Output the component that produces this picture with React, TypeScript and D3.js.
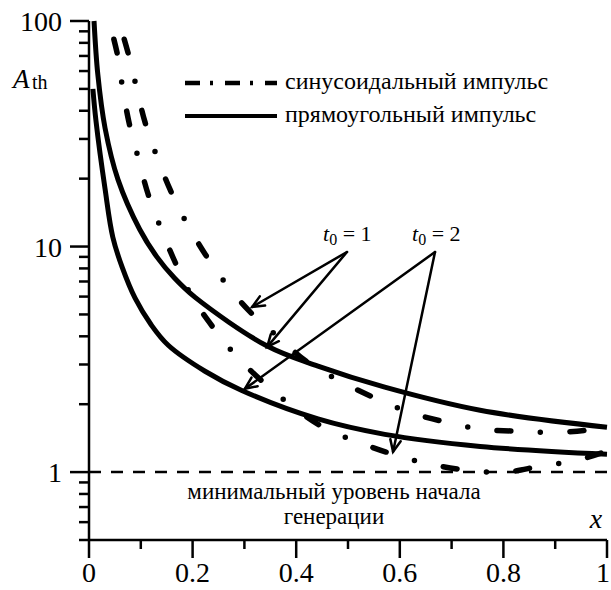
import React from 'react'
import * as d3 from 'd3'

const W = 611
const H = 590

// прямоугольный импульс, t0 = 1
const rect1X = [0.0097, 0.017, 0.031, 0.056, 0.098, 0.131, 0.165, 0.205, 0.344, 0.442, 0.571, 0.755, 1.0]
const rect1Y = [100, 58, 33.5, 19.8, 11.9, 9.0, 7.25, 5.95, 3.62, 2.95, 2.38, 1.88, 1.58]
// прямоугольный импульс, t0 = 2
const rect2X = [0.0075, 0.0135, 0.031, 0.046, 0.064, 0.089, 0.12, 0.153, 0.224, 0.295, 0.442, 0.571, 0.755, 1.0]
const rect2Y = [50, 36, 18, 11, 8.1, 5.9, 4.5, 3.65, 2.8, 2.3, 1.72, 1.47, 1.3, 1.2]
// синусоидальный импульс, t0 = 1
const sin1X = [0.068, 0.077, 0.089, 0.108, 0.129, 0.156, 0.187, 0.224, 0.266, 0.311, 0.365, 0.421, 0.485, 0.548, 0.616, 0.687, 0.757, 0.82, 0.9, 1.0]
const sin1Y = [83, 70, 53.7, 35.7, 25.8, 18, 12.9, 9.27, 6.76, 5.13, 3.97, 3.08, 2.53, 2.15, 1.85, 1.67, 1.55, 1.52, 1.5, 1.56]
// синусоидальный импульс, t0 = 2
const sin2X = [0.048, 0.056, 0.064, 0.077, 0.095, 0.114, 0.139, 0.166, 0.199, 0.239, 0.286, 0.34, 0.392, 0.452, 0.519, 0.587, 0.658, 0.73, 0.803, 0.87, 0.944, 1.0]
const sin2Y = [83, 69, 52, 35.7, 24.7, 17.1, 12, 8.55, 5.98, 4.4, 3.24, 2.46, 1.96, 1.58, 1.36, 1.2, 1.085, 1.02, 1.0, 1.06, 1.13, 1.24]

const xMajor = [0, 0.2, 0.4, 0.6, 0.8, 1]
const xLabels = ['0', '0.2', '0.4', '0.6', '0.8', '1']
const xMinor = [0.1, 0.3, 0.5, 0.7, 0.9]
const yMajor = [1, 10, 100]
const yLabels = ['1', '10', '100']
const yMinor = [0.5, 0.6, 0.7, 0.8, 0.9, 2, 3, 4, 5, 6, 7, 8, 9, 20, 30, 40, 50, 60, 70, 80, 90]

const legendLabels = ['синусоидальный импульс', 'прямоугольный импульс']

// стрелки: [x0, y0, x1, y1] в координатах данных
const arrowsT1 = [[0.498, 9.46, 0.315, 5.4], [0.498, 9.46, 0.344, 3.59]]
const arrowsT2 = [[0.668, 9.46, 0.301, 2.34], [0.668, 9.46, 0.587, 1.23]]

const font = "'Liberation Serif', 'Times New Roman', serif"

function zip(xs: number[], ys: number[]) {
  return xs.map((x, i) => [x, ys[i]] as [number, number])
}

export default function App() {
  const x = d3.scaleLinear().domain([0, 1]).range([89, 607])
  const y = d3.scaleLog().domain([0.5, 100]).range([540, 21])

  const line = d3.line<[number, number]>()
    .x(d => x(d[0]))
    .y(d => y(d[1]))
    .curve(d3.curveCatmullRom.alpha(0.5))

  const arrow = (a: number[], i: number) => {
    const x0 = x(a[0]), y0 = y(a[1]), x1 = x(a[2]), y1 = y(a[3])
    const ang = Math.atan2(y1 - y0, x1 - x0)
    const L = 13, s = 0.42
    const h1 = [x1 - L * Math.cos(ang - s), y1 - L * Math.sin(ang - s)]
    const h2 = [x1 - L * Math.cos(ang + s), y1 - L * Math.sin(ang + s)]
    return (
      <g key={i} stroke="#000" strokeWidth={2.5} fill="none" strokeLinecap="round">
        <line x1={x0} y1={y0} x2={x1} y2={y1} />
        <polyline points={`${h1[0]},${h1[1]} ${x1},${y1} ${h2[0]},${h2[1]}`} />
      </g>
    )
  }

  return (
    <svg width={W} height={H} style={{ position: 'absolute', left: 0, top: 0, background: '#fff', fontFamily: font }}>
      {/* уровень 1 */}
      <line x1={x(0)} x2={x(1)} y1={y(1)} y2={y(1)} stroke="#000" strokeWidth={2.5} strokeDasharray="12 10" />

      {/* кривые */}
      <path d={line(zip(rect1X, rect1Y)) || ''} fill="none" stroke="#000" strokeWidth={5} />
      <path d={line(zip(rect2X, rect2Y)) || ''} fill="none" stroke="#000" strokeWidth={5} />
      <path d={line(zip(sin1X, sin1Y)) || ''} fill="none" stroke="#000" strokeWidth={5.5}
        strokeDasharray="14 29.5 0 29.5" strokeLinecap="round" />
      <path d={line(zip(sin2X, sin2Y)) || ''} fill="none" stroke="#000" strokeWidth={5.5}
        strokeDasharray="14 29.5 0 29.5" strokeLinecap="round" />

      {/* стрелки */}
      {arrowsT1.map(arrow)}
      {arrowsT2.map((a, i) => arrow(a, i + 10))}

      {/* оси */}
      <g stroke="#000" strokeWidth={2.5}>
        <line x1={x(0)} x2={x(0)} y1={y(100)} y2={y(0.5)} />
        <line x1={x(0)} x2={x(1)} y1={y(0.5)} y2={y(0.5)} />
        {yMajor.map(v => <line key={'ym' + v} x1={x(0) - 19} x2={x(0)} y1={y(v)} y2={y(v)} />)}
        {yMinor.map(v => <line key={'yn' + v} x1={x(0) - 10} x2={x(0)} y1={y(v)} y2={y(v)} />)}
        {xMajor.map(v => <line key={'xm' + v} x1={x(v)} x2={x(v)} y1={y(0.5)} y2={y(0.5) + 18} />)}
        {xMinor.map(v => <line key={'xn' + v} x1={x(v)} x2={x(v)} y1={y(0.5)} y2={y(0.5) + 9} />)}
      </g>
      <g fontSize={28} fill="#000">
        {yMajor.map((v, i) => (
          <text key={'yl' + v} x={62} y={y(v) + 10} textAnchor="end">{yLabels[i]}</text>
        ))}
        {xMajor.map((v, i) => (
          <text key={'xl' + v} x={Math.min(x(v), 603)} y={582} textAnchor="middle">{xLabels[i]}</text>
        ))}
      </g>

      {/* подписи осей */}
      <text x={13} y={88} fontSize={27} fontStyle="italic">A</text>
      <text x={32} y={89} fontSize={20}>th</text>
      <text x={596} y={528} fontSize={28} fontStyle="italic" textAnchor="middle">x</text>

      {/* легенда */}
      <line x1={185} x2={277} y1={83} y2={83} stroke="#000" strokeWidth={4.5} strokeDasharray="15 10 3 12" />
      <line x1={185} x2={277} y1={116} y2={116} stroke="#000" strokeWidth={4} />
      <text x={285} y={89} fontSize={24}>{legendLabels[0]}</text>
      <text x={285} y={122} fontSize={24}>{legendLabels[1]}</text>

      {/* t0 */}
      <text x={323} y={241} fontSize={22}>
        <tspan fontStyle="italic">t</tspan><tspan fontSize={16} dy={4}>0</tspan><tspan dy={-4}> = 1</tspan>
      </text>
      <text x={412} y={241} fontSize={22}>
        <tspan fontStyle="italic">t</tspan><tspan fontSize={16} dy={4}>0</tspan><tspan dy={-4}> = 2</tspan>
      </text>

      {/* надпись у уровня */}
      <text x={334} y={499} fontSize={23} textAnchor="middle">минимальный уровень начала</text>
      <text x={334} y={524} fontSize={23} textAnchor="middle">генерации</text>
    </svg>
  )
}
